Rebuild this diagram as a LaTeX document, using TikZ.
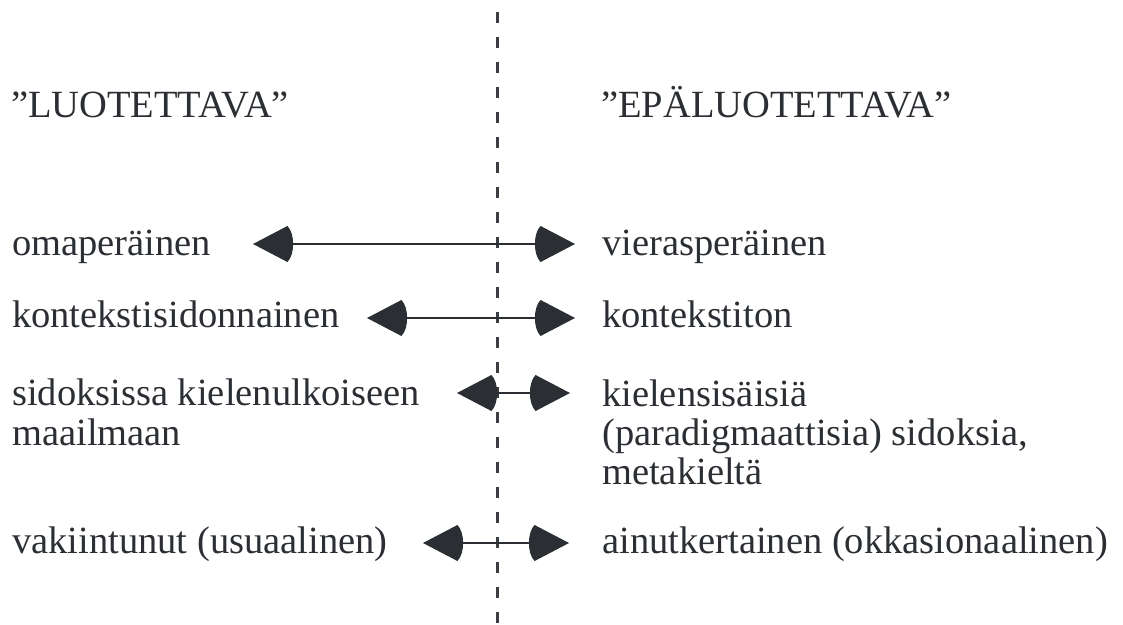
\documentclass[tikz,border=0pt]{standalone}
\usepackage{fontspec}
\setmainfont{Liberation Serif}
\usetikzlibrary{arrows.meta}
\definecolor{ink}{HTML}{2B2F33}
\definecolor{dashink}{HTML}{3A3E42}
\pgfdeclarearrow{
  name = RoundBackTip,
  parameters = {\the\pgfarrowlength,\the\pgfarrowwidth},
  setup code = {
    \pgfarrowssettipend{0pt}
    \pgfarrowssetbackend{-\pgfarrowlength}
    \pgfarrowssetlineend{-0.9\pgfarrowlength}
    \pgfarrowssavethe\pgfarrowlength
    \pgfarrowssavethe\pgfarrowwidth
  },
  drawing code = {
    \pgfpathmoveto{\pgfpoint{0pt}{0pt}}
    \pgfpathlineto{\pgfpoint{-0.86\pgfarrowlength}{0.5\pgfarrowwidth}}
    \pgfpathcurveto{\pgfpoint{-1.05\pgfarrowlength}{0.3\pgfarrowwidth}}
                   {\pgfpoint{-1.05\pgfarrowlength}{-0.3\pgfarrowwidth}}
                   {\pgfpoint{-0.86\pgfarrowlength}{-0.5\pgfarrowwidth}}
    \pgfpathclose
    \pgfusepathqfill
  },
  defaults = {length = 40pt, width = 36pt}
}
\begin{document}
\begin{tikzpicture}[x=1pt,y=-1pt,
  lbl/.style={anchor=base west, inner sep=0pt, font=\fontsize{38.5}{40}\selectfont, text=ink},
  dbl/.style={{RoundBackTip[length=40pt,width=36pt]}-{RoundBackTip[length=40pt,width=36pt]}, line width=2.8pt, draw=ink},
  divider/.style={draw=dashink, line width=3pt, dash pattern=on 11pt off 14pt}]
\useasboundingbox (0,0) rectangle (1123,624);
% divider
\coordinate (top) at (497,12);
\coordinate (bot) at (497,630);
\draw[divider] (top) -- (bot);
% headings
\node[lbl] (hl) at (11,117) {”LUOTETTAVA”};
\node[lbl] (hr) at (601,117) {”EPÄLUOTETTAVA”};
% row 1
\node[lbl] (a1) at (12,255) {omaperäinen};
\node[lbl] (b1) at (602,255) {vierasperäinen};
\coordinate (l1) at (253,244);
\coordinate (r1) at (575,244);
\draw[dbl] (l1) -- (r1);
% row 2
\node[lbl] (a2) at (12,327) {kontekstisidonnainen};
\node[lbl] (b2) at (602,327) {kontekstiton};
\coordinate (l2) at (367,318);
\coordinate (r2) at (575,318);
\draw[dbl] (l2) -- (r2);
% row 3
\node[lbl] (a3) at (12,405) {sidoksissa kielenulkoiseen};
\node[lbl] (a3b) at (12,445) {maailmaan};
\node[lbl] (b3) at (602,406) {kielensisäisiä};
\node[lbl] (b3b) at (602,445) {(paradigmaattisia) sidoksia,};
\node[lbl] (b3c) at (602,484) {metakieltä};
\coordinate (l3) at (457,393);
\coordinate (r3) at (570,393);
\draw[dbl] (l3) -- (r3);
% row 4
\node[lbl] (a4) at (12,553) {vakiintunut (usuaalinen)};
\node[lbl] (b4) at (602,553) {ainutkertainen (okkasionaalinen)};
\coordinate (l4) at (423,543);
\coordinate (r4) at (569,543);
\draw[dbl] (l4) -- (r4);
\end{tikzpicture}
\end{document}
